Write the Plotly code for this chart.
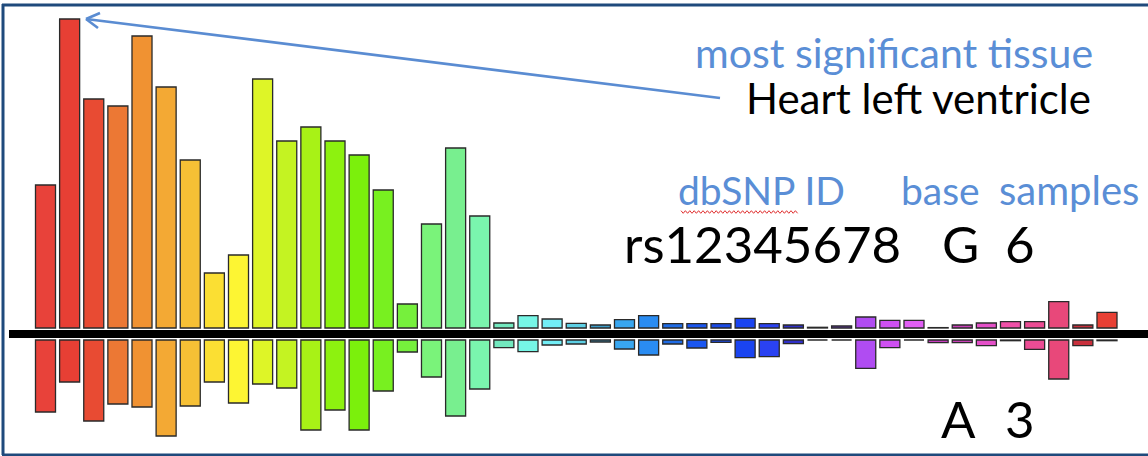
import plotly.graph_objects as go

# ---- data ----
tissues = list(range(1, 46))
up_values = [143, 309, 229, 222, 292, 241, 168, 55, 73, 249, 187, 201, 187, 173, 138,
             24, 104, 180, 112, 5, 12.3, 9, 4.7, 3, 8.3, 12.3, 4.3, 4.3, 4.3, 9.7,
             4.3, 3, 0.7, 2, 11, 7.7, 7.7, 0.4, 3, 5, 6.3, 6.3, 26.3, 3, 15.7]
down_values = [72, 42, 81, 64, 67, 96, 66, 42, 63, 44, 48, 90, 70, 90, 51,
               12, 37, 76, 49, 7.7, 11.7, 5, 4, 2, 9, 15, 4, 8, 2.3, 17.7,
               16.7, 3.7, 0, 0, 28.3, 7.7, 0, 2.7, 2.7, 5.7, 0.7, 9.3, 39, 5.7, 0.7]
colors = ["#E8423A", "#E73F34", "#E84B33", "#EC7834", "#F09232", "#F3A934", "#F6C035",
          "#FBDF33", "#FDF533", "#DEF527", "#C4F322", "#A8F216", "#8DF20F", "#7BF00C",
          "#78F020", "#76F03C", "#7AF37A", "#78EF8F", "#7AF5AE", "#72E8BE", "#76F6E6",
          "#72EEF6", "#5CCFE4", "#3C9CC8", "#38A6F0", "#2A8CF2", "#1F6CE6", "#1A56F0",
          "#1A4AE6", "#1A44F0", "#2A42F2", "#3030C8", "#6030C0", "#7038C8", "#B04CF2",
          "#CE50F2", "#E05EF4", "#C83CC0", "#C840B8", "#E450C8", "#F050A8", "#EC4C94",
          "#E8487A", "#C8303C", "#E84034"]

W, H = 1148, 456
BLUE = "#5A8ED6"
FONT = "Lato"

def px(x):
    return x / W

def py(y):
    return 1 - y / H

fig = go.Figure()
fig.add_trace(go.Bar(x=tissues, y=up_values, base=6, width=0.83,
                     marker=dict(color=colors, line=dict(color="#2a2a2a", width=1.3)),
                     hoverinfo="skip"))
fig.add_trace(go.Bar(x=tissues, y=[-v for v in down_values], base=-6, width=0.83,
                     marker=dict(color=colors, line=dict(color="#2a2a2a", width=1.3)),
                     hoverinfo="skip"))

shapes = []
# thick baseline
shapes.append(dict(type="line", xref="paper", yref="y", x0=px(9), x1=1, y0=0, y1=0,
                   line=dict(color="black", width=8)))
# frame
frame = "#1F4A7C"
shapes.append(dict(type="line", xref="paper", yref="paper", x0=px(2), x1=1, y0=py(5), y1=py(5),
                   line=dict(color=frame, width=3)))
shapes.append(dict(type="line", xref="paper", yref="paper", x0=px(3), x1=px(3), y0=py(4), y1=py(455),
                   line=dict(color=frame, width=3)))
shapes.append(dict(type="line", xref="paper", yref="paper", x0=px(2), x1=1, y0=py(455), y1=py(455),
                   line=dict(color=frame, width=3)))
# arrow
acol = "#5A8CD2"
tip = (86, 19)
for (x0, y0) in [(720, 98), (100, 13), (98, 28)]:
    shapes.append(dict(type="line", xref="paper", yref="paper", x0=px(x0), y0=py(y0),
                       x1=px(tip[0]), y1=py(tip[1]), line=dict(color=acol, width=2.6)))
# red spell-check squiggle under dbSNP
pts = []
xx = 681
k = 0
while xx <= 798:
    pts.append((xx, 212 + (1.3 if k % 2 else -1.3)))
    xx += 2.2
    k += 1
path = "M " + " L ".join(f"{px(a):.5f},{py(b):.5f}" for a, b in pts)
shapes.append(dict(type="path", xref="paper", yref="paper", path=path,
                   line=dict(color="#E03030", width=1)))

ann = []
def text(t, x, yc, size, color):
    ann.append(dict(text=t, xref="paper", yref="paper", x=px(x), y=py(yc), xanchor="left",
                    yanchor="middle", showarrow=False, borderpad=0, borderwidth=0,
                    font=dict(family=FONT, size=size, color=color)))

text("most significant tissue", 695, 52, 41, BLUE)
text("Heart left ventricle", 746, 98, 42, "black")
text("dbSNP ID", 678, 190, 39, BLUE)
text("base", 901, 190, 39, BLUE)
text("samples", 999, 190, 40, BLUE)
text("rs12345678", 624, 243, 51, "black")
text("G", 942, 243, 51, "black")
text("6", 1005, 243, 51, "black")
text("A", 941, 418, 51, "black")
text("3", 1005, 418, 51, "black")

fig.update_layout(
    width=W, height=H, margin=dict(l=0, r=0, t=0, b=0),
    paper_bgcolor="white", plot_bgcolor="white",
    barmode="overlay", showlegend=False,
    xaxis=dict(range=[-1.886 + 1, 45.70 + 1], visible=False, fixedrange=True),
    yaxis=dict(range=[-122, 334], visible=False, fixedrange=True),
    shapes=shapes, annotations=ann,
)

fig.write_html("out.html", config={"displayModeBar": False},
               post_script="document.body.style.margin='0';document.body.style.padding='0';")
